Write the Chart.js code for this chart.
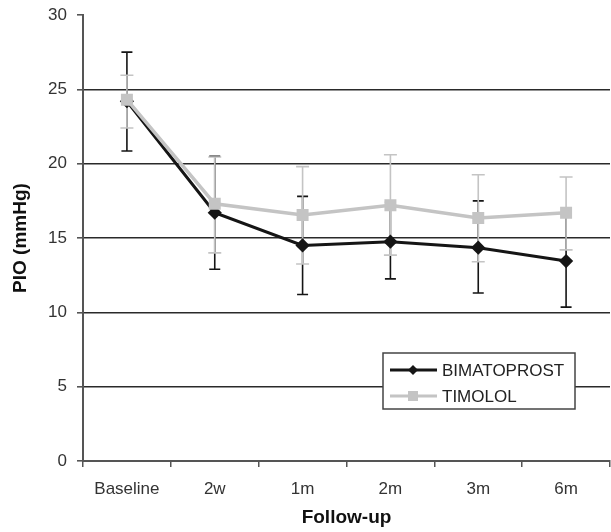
<!DOCTYPE html>
<html>
<head>
<meta charset="utf-8">
<script src="https://cdn.jsdelivr.net/npm/chart.js@4"></script>
<style>
  html, body { margin: 0; padding: 0; background: #fff; overflow: hidden; }
  #wrap { width: 611px; height: 532px; }
  canvas { display: block; }
</style>
</head>
<body>
<div id="wrap"><canvas id="c" width="611" height="532"></canvas></div>
<script>
// Datos
const labels = ['Baseline', '2w', '1m', '2m', '3m', '6m'];

const bimMean  = [24.2, 16.7, 14.5, 14.75, 14.35, 13.45];
const bimUpper = [27.5, 20.5, 17.8, 17.4, 17.5, 16.6];
const bimLower = [20.85, 12.9, 11.2, 12.25, 11.3, 10.35];

const timMean  = [24.3, 17.3, 16.55, 17.2, 16.35, 16.7];
const timUpper = [25.95, 20.45, 19.8, 20.6, 19.25, 19.1];
const timLower = [22.4, 14.0, 13.25, 13.85, 13.4, 14.2];

const yTicks = { min: 0, max: 30, step: 5 };

const FONT = "'Liberation Sans', Arial, sans-serif";
const BLACK = '#151515';
const GRAY = '#c4c4c4';

// Barras de error (dibujadas antes de las series)
const errorBars = {
    id: 'errorBars',
    beforeDatasetsDraw(chart) {
        const { ctx, scales: { y } } = chart;
        // negro primero, gris encima
        [0, 1].forEach(i => {
            const ds = chart.data.datasets[i];
            const meta = chart.getDatasetMeta(i);
            ctx.save();
            ctx.strokeStyle = ds.errorColor;
            ctx.lineWidth = 1.6;
            meta.data.forEach((pt, j) => {
                const top = y.getPixelForValue(ds.upper[j]);
                const bot = y.getPixelForValue(ds.lower[j]);
                const w = ds.capHalf;
                ctx.beginPath();
                ctx.moveTo(pt.x, top); ctx.lineTo(pt.x, bot);
                ctx.moveTo(pt.x - w, top); ctx.lineTo(pt.x + w, top);
                ctx.moveTo(pt.x - w, bot); ctx.lineTo(pt.x + w, bot);
                ctx.stroke();
            });
            ctx.restore();
        });
    }
};

// Leyenda en caja dentro del área
const boxLegend = {
    id: 'boxLegend',
    afterDraw(chart) {
        const { ctx } = chart;
        const x = 383, yTop = 353, w = 192, h = 56;
        ctx.save();
        ctx.fillStyle = '#fff';
        ctx.fillRect(x, yTop, w, h);
        ctx.strokeStyle = '#444';
        ctx.lineWidth = 1.5;
        ctx.strokeRect(x, yTop, w, h);
        [0, 1].forEach((i, row) => {
            const ds = chart.data.datasets[i];
            const cy = yTop + 17 + row * 26;
            ctx.strokeStyle = ds.borderColor;
            ctx.lineWidth = 3;
            ctx.beginPath();
            ctx.moveTo(x + 7, cy); ctx.lineTo(x + 54, cy);
            ctx.stroke();
            ctx.fillStyle = ds.pointBackgroundColor;
            const mx = x + 30;
            ctx.beginPath();
            if (ds.pointStyle === 'rectRot') {
                ctx.moveTo(mx, cy - 5); ctx.lineTo(mx + 5, cy);
                ctx.lineTo(mx, cy + 5); ctx.lineTo(mx - 5, cy);
            } else {
                ctx.rect(mx - 5, cy - 5, 10, 10);
            }
            ctx.fill();
            ctx.fillStyle = '#222';
            ctx.font = '17px ' + FONT;
            ctx.textBaseline = 'middle';
            ctx.fillText(ds.label, x + 59, cy + 1);
        });
        ctx.restore();
    }
};

new Chart(document.getElementById('c'), {
    type: 'line',
    data: {
        labels: labels,
        datasets: [
            {
                label: 'BIMATOPROST',
                data: bimMean,
                upper: bimUpper,
                lower: bimLower,
                errorColor: BLACK,
                capHalf: 5.5,
                borderColor: BLACK,
                borderWidth: 3,
                pointStyle: 'rectRot',
                pointRadius: 5,
                pointBackgroundColor: BLACK,
                pointBorderColor: BLACK,
                tension: 0,
                order: 1
            },
            {
                label: 'TIMOLOL',
                data: timMean,
                upper: timUpper,
                lower: timLower,
                errorColor: GRAY,
                capHalf: 6.5,
                borderColor: GRAY,
                borderWidth: 3.5,
                pointStyle: 'rect',
                pointRadius: 6,
                pointBackgroundColor: GRAY,
                pointBorderColor: GRAY,
                tension: 0,
                order: 0
            }
        ]
    },
    options: {
        responsive: false,
        animation: false,
        layout: { autoPadding: false, padding: { top: 15, right: 1, left: 0, bottom: 0 } },
        plugins: {
            legend: { display: false },
            tooltip: { enabled: false }
        },
        scales: {
            x: {
                offset: true,
                afterFit: (s) => { s.height = 71; s.paddingLeft = 0; s.paddingRight = 0; },
                grid: { offset: true, drawOnChartArea: false, tickLength: 6, tickColor: '#555', lineWidth: 1.5 },
                border: { color: '#555', width: 2 },
                ticks: { color: '#333', font: { family: FONT, size: 17 }, padding: 12 },
                title: {
                    display: true, text: 'Follow-up', color: '#111',
                    font: { family: FONT, size: 19, weight: 'bold' }, padding: 3
                }
            },
            y: {
                min: yTicks.min,
                max: yTicks.max,
                afterFit: (s) => { s.width = 83; s.paddingTop = 0; s.paddingBottom = 0; },
                grid: {
                    color: (c) => (c.tick && (c.tick.value === yTicks.min || c.tick.value === yTicks.max)) ? 'rgba(0,0,0,0)' : '#2a2a2a',
                    lineWidth: 1.6,
                    tickColor: '#555',
                    tickLength: 6
                },
                border: { color: '#555', width: 2 },
                ticks: { stepSize: yTicks.step, color: '#333', font: { family: FONT, size: 17 }, padding: 10 },
                title: {
                    display: true, text: 'PIO (mmHg)', color: '#111',
                    font: { family: FONT, size: 19, weight: 'bold' }, padding: 9
                }
            }
        }
    },
    plugins: [errorBars, boxLegend]
});
</script>
</body>
</html>
